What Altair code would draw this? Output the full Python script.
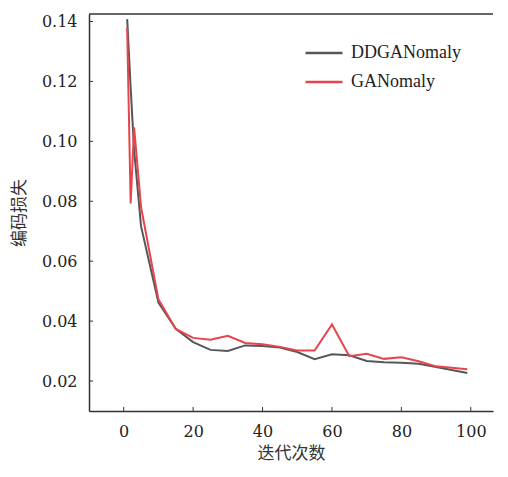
import altair as alt
import pandas as pd

iters = [1, 2, 3, 5, 10, 15, 20, 25, 30, 35, 40, 45, 50, 55, 60, 65, 70, 75, 80, 85, 90, 99]
ddganomaly = [0.1408, 0.118, 0.097, 0.0716, 0.0462, 0.0374, 0.0330, 0.0304, 0.0300, 0.0319, 0.0317,
              0.0312, 0.0297, 0.0273, 0.0289, 0.0286, 0.0267, 0.0263, 0.0261, 0.0258, 0.0247, 0.0227]
ganomaly = [0.1378, 0.0793, 0.1047, 0.0780, 0.0473, 0.0374, 0.0344, 0.0338, 0.0351, 0.0327, 0.0323,
            0.0314, 0.0302, 0.0302, 0.0389, 0.0283, 0.0291, 0.0274, 0.0279, 0.0266, 0.0249, 0.0239]
series_names = ["DDGANomaly", "GANomaly"]
colors = ["#555759", "#e8444c"]
x_ticks = [0, 20, 40, 60, 80, 100]
y_ticks = [0.02, 0.04, 0.06, 0.08, 0.10, 0.12, 0.14]

rows = []
for i, x in enumerate(iters):
    rows.append({"iter": x, "loss": ddganomaly[i], "model": series_names[0]})
    rows.append({"iter": x, "loss": ganomaly[i], "model": series_names[1]})
df = pd.DataFrame(rows)

W, H = 404, 397
xscale = alt.Scale(domain=[-10, 106.4], nice=False, zero=False)
yscale = alt.Scale(domain=[0.01, 0.1425], nice=False, zero=False)
axis_font = "DejaVu Serif"
legend_font = "Times New Roman, Liberation Serif, serif"
cjk = "Noto Sans CJK SC"

xaxis = alt.Axis(values=x_ticks, ticks=False, grid=False, labelPadding=12,
                 labelFont=axis_font, labelColor="#222", labelFontSize=16,
                 title="迭代次数", titleFont=cjk, titleFontWeight="normal",
                 titleFontSize=17, titlePadding=6)
yaxis = alt.Axis(values=y_ticks, format=".2f", ticks=False, grid=False, labelPadding=12,
                 labelFont=axis_font, labelColor="#222", labelFontSize=16,
                 title="编码损失", titleFont=cjk, titleFontWeight="normal",
                 titleFontSize=17, titlePadding=13)

lines = alt.Chart(df).mark_line(strokeWidth=2).encode(
    x=alt.X("iter:Q", scale=xscale, axis=xaxis),
    y=alt.Y("loss:Q", scale=yscale, axis=yaxis),
    color=alt.Color("model:N", scale=alt.Scale(domain=series_names, range=colors),
                    legend=alt.Legend(title=None, orient="none", legendX=215, legendY=19,
                                      symbolType="stroke", symbolSize=1369, symbolStrokeWidth=2.5,
                                      labelFont=legend_font, labelFontSize=18, labelColor="#222",
                                      labelOffset=7, rowPadding=-3, padding=0)),
)

xt = alt.Chart(pd.DataFrame({"iter": x_ticks})).mark_rule(color="#333", strokeWidth=1).encode(
    x=alt.X("iter:Q", scale=xscale, axis=xaxis), y=alt.value(H), y2=alt.value(H - 4))
yt = alt.Chart(pd.DataFrame({"loss": y_ticks})).mark_rule(color="#333", strokeWidth=1).encode(
    y=alt.Y("loss:Q", scale=yscale, axis=yaxis), x=alt.value(0), x2=alt.value(4))
top = alt.Chart(pd.DataFrame({"t": [0]})).mark_rule(color="#333", strokeWidth=1.5).encode(
    y=alt.value(0))

chart = alt.layer(lines, xt, yt, top).properties(
    width=W, height=H, padding={"left": 2, "top": 5, "right": 0, "bottom": 0}
).configure_view(stroke=None).configure_axis(
    domainColor="#333", domainWidth=1.5, titleColor="#333"
)

chart.save("out.html", embed_options={"renderer": "svg", "actions": False})
